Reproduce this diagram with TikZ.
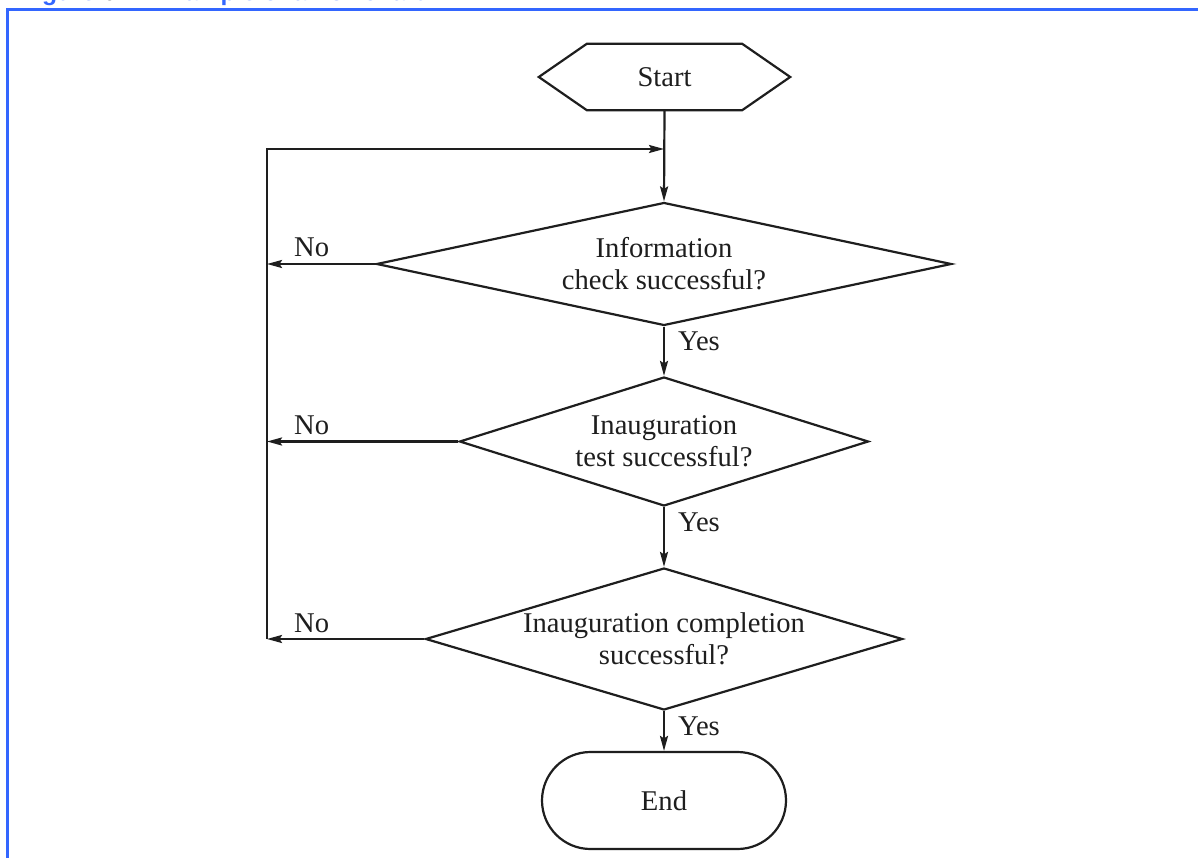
\documentclass[tikz,border=0pt]{standalone}
\usepackage{fontspec}
\setmainfont{Liberation Serif}
\newfontfamily\titlefont{Liberation Sans}
\usetikzlibrary{shapes.geometric,shapes.misc,arrows.meta,calc}
\definecolor{frameblue}{RGB}{51,102,255}
\definecolor{ink}{RGB}{30,30,30}
\begin{document}
\begin{tikzpicture}[x=1pt,y=-1pt,
  every node/.style={font=\fontsize{28.6}{32}\selectfont, text=ink},
  line/.style={line width=2.2pt, draw=ink},
  arr/.style={line, -{Stealth[length=15pt,width=8pt,inset=2.5pt]}},
  dec/.style={diamond, draw=ink, line width=2.2pt, inner sep=0pt},
  lbl/.style={inner sep=0pt, anchor=base west}]
\useasboundingbox (0,0) rectangle (1198,858);
\clip (0,0) rectangle (1198,858);
\fill[white] (0,0) rectangle (1198,858);
% title (cut off at top) and frame
\node[anchor=base west, inner sep=0pt, text=frameblue, font=\titlefont\bfseries\fontsize{24.7}{28}\selectfont] (title) at (20,0.8) {Figure \textcolor{black}{6} — Example of a flowchart};
\draw[frameblue, line width=2.2pt] (7.5,860) -- (7.5,9.5) -- (1200,9.5);
% start hexagon
\node[minimum width=251pt, minimum height=66pt, inner sep=0pt] (start) at (664.5,77) {Start};
\draw[line, line join=miter] (start.west) -- ($(start.north west)+(48,0)$) -- ($(start.north east)+(-48,0)$) -- (start.east) -- ($(start.south east)+(-48,0)$) -- ($(start.south west)+(48,0)$) -- cycle;
% decisions
\node[dec, minimum width=575pt, minimum height=123pt] (d1) at (664,264) {};
\node[align=center, inner sep=0pt] (t1) at (d1.center) {Information\\check successful?};
\node[dec, minimum width=409pt, minimum height=129pt] (d2) at (664,441.5) {};
\node[align=center, inner sep=0pt] (t2) at (d2.center) {Inauguration\\test successful?};
\node[dec, minimum width=477pt, minimum height=142pt] (d3) at (664,639) {};
\node[align=center, inner sep=0pt] (t3) at (d3.center) {Inauguration completion\\successful?};
% end
\node[rounded rectangle, draw=ink, line width=2.2pt, minimum width=244pt, minimum height=97pt, inner sep=0pt] (end) at (664,800.5) {End};
% loop coordinates
\coordinate (j) at (664,149);
\coordinate (ltop) at (267,149);
\coordinate (l1) at (267,264);
\coordinate (l2) at (267,441.5);
\coordinate (l3) at (267,639);
% connectors
\draw[arr] (start.south) -- (d1.north);
\draw[arr] (d1.south) -- (d2.north);
\draw[arr] (d2.south) -- (d3.north);
\draw[arr] (d3.south) -- (end.north);
\draw[arr] (d1.west) -- (l1);
\draw[arr] (d2.west) -- (l2);
\draw[arr] (d3.west) -- (l3);
\draw[arr] (l3) -- (ltop) -- (j);
% labels
\node[lbl] (no1) at (294,257) {No};
\node[lbl] (no2) at (294,434) {No};
\node[lbl] (no3) at (294,632) {No};
\node[lbl] (yes1) at (678,350) {Yes};
\node[lbl] (yes2) at (678,531) {Yes};
\node[lbl] (yes3) at (678,735) {Yes};
\end{tikzpicture}
\end{document}
